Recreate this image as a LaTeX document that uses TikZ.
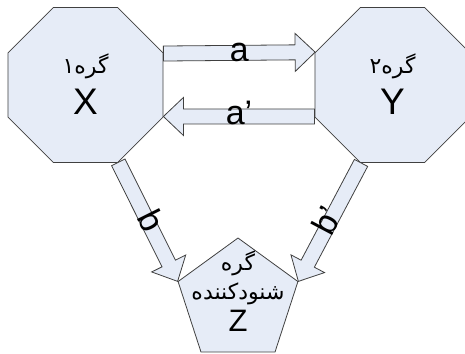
\documentclass[tikz,border=0pt]{standalone}
\usepackage{fontspec}
\setmainfont{Liberation Sans}
\newfontfamily\farsi[Script=Arabic]{DejaVu Sans}
\TeXXeTstate=1
\usetikzlibrary{shapes.geometric,calc}
\definecolor{boxfill}{RGB}{230,236,247}
\definecolor{boxline}{RGB}{64,64,64}

% fat block arrow from #1 to #2 with label #3
\newcommand\blockarrow[3]{%
  \coordinate (hb) at ($(#2)!20pt!(#1)$);
  \draw[fatarrow] ($(#1)!7.5pt!90:(#2)$) -- ($(hb)!7.5pt!-90:(#1)$)
    -- ($(hb)!19pt!-90:(#1)$) -- (#2) -- ($(hb)!19pt!90:(#1)$)
    -- ($(hb)!7.5pt!90:(#1)$) -- ($(#1)!7.5pt!-90:(#2)$) -- cycle;
  \path (#1) -- node[arrowlabel, sloped] {#3} (#2);}

\begin{document}
\begin{tikzpicture}[x=1pt, y=-1pt,
    hub/.style={regular polygon, regular polygon sides=8, minimum size=167.8pt,
      inner sep=0pt, draw=boxline, fill=boxfill, line width=0.8pt},
    sink/.style={regular polygon, regular polygon sides=5, minimum size=126pt,
      inner sep=0pt, draw=boxline, fill=boxfill, line width=0.8pt},
    fatarrow/.style={draw=boxline, fill=boxfill, line width=0.8pt},
    arrowlabel/.style={font=\fontsize{34}{34}\selectfont, inner sep=0pt,
      text height=17pt, text depth=0pt},
    fa/.style={font=\farsi\fontsize{22}{22}\selectfont, anchor=base, inner sep=0pt},
    letter/.style={font=\fontsize{37}{37}\selectfont, anchor=base, inner sep=0pt}]
  \useasboundingbox (0,0) rectangle (465,353);

  \node[hub] (X) at (85.5,85) {};
  \node[hub] (Y) at (392.5,85) {};
  \node[sink] (Z) at (238,301) {};

  \node[fa] (X-name) at (85.5,73) {\beginR گره۱\endR};
  \node[letter] (X-tag) at (85.5,114) {X};
  \node[fa] (Y-name) at (392.5,73) {\beginR گره۲\endR};
  \node[letter] (Y-tag) at (392.5,114) {Y};
  \node[fa] (Z-name) at (238,270) {\beginR گره\endR};
  \node[fa] (Z-role) at (238,299) {\beginR شنودکننده\endR};
  \node[letter, font=\fontsize{31}{31}\selectfont] (Z-tag) at (238,331) {Z};

  \blockarrow{X.22.5}{Y.157.5}{a}
  \blockarrow{Y.202.5}{X.-22.5}{a’}
  \blockarrow{X.-67.5}{Z.162}{b}
  \blockarrow{Y.-112.5}{Z.18}{b’}
\end{tikzpicture}
\end{document}
